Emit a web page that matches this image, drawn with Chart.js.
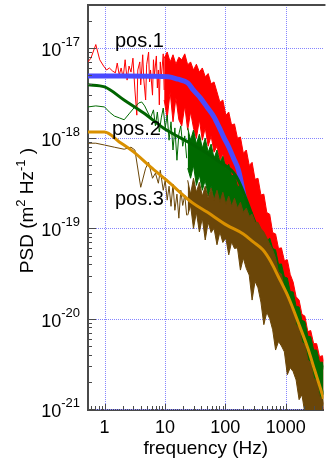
<!DOCTYPE html>
<html>
<head>
<meta charset="utf-8">
<script src="https://cdn.jsdelivr.net/npm/chart.js@4"></script>
<style>
  html, body { margin: 0; padding: 0; background: #fff; overflow: hidden; }
  canvas { display: block; }
</style>
</head>
<body>
<canvas id="psdChart" width="329" height="458"></canvas>
<script>
// axis ticks / labels
const xDecades = [1, 10, 100, 1000];
const yDecades = [1e-21, 1e-20, 1e-19, 1e-18, 1e-17];
const yExponents = ['-21', '-20', '-19', '-18', '-17'];
const seriesNames = ['pos.1', 'pos.2', 'pos.3'];

// pos.1 raw spectrum, low frequency part (Hz, m^2/Hz)
const redFreq = [0.53,0.593,0.715,0.83,0.963,1.08,1.2,1.35,1.51,1.62,1.75,1.88,2.03,2.19,2.36,2.54,2.74,2.95,3.18,3.42,3.55,3.83,3.97,4.28,4.44,4.79,4.97,5.36,5.56,5.77,6.22,6.45,6.7,7.21,7.49,7.78,8.07,8.37,8.69,9.37,9.7];
const redPsd = [7.0e-18,7.7e-18,1.09e-17,7.4e-18,6.3e-18,5.7e-18,6.0e-18,5.56e-18,5.3e-18,6.8e-18,5.0e-18,6.0e-18,4.65e-18,7.4e-18,4.4e-18,6.3e-18,5.4e-18,7.7e-18,3.42e-18,1.8e-18,5.7e-18,7.0e-18,3.9e-18,8.4e-18,4.65e-18,2.65e-18,6.5e-18,9.0e-18,4.2e-18,5.7e-18,3.0e-18,7.4e-18,5.0e-18,8.15e-18,3.6e-18,5.7e-18,2.34e-18,7.0e-18,4.65e-18,8.6e-18,3.42e-18];

// pos.2 raw spectrum, low frequency part
const greenFreq = [0.53,0.715,1,1.2,1.45,1.75,2.11,2.54,3.06,3.69,4.12,4.61,5.16,5.77,6.45,6.95,7.49,8.07,8.69,9.37,10.1,10.9,11.7,12.6,13.6,14.6,15.8,17.0,18.3,19.7,21.3,22.9];
const greenPsd = [2.22e-18,2.28e-18,2.22e-18,1.95e-18,1.76e-18,1.68e-18,1.6e-18,1.86e-18,2.16e-18,2.46e-18,2.52e-18,2.28e-18,1.95e-18,1.68e-18,2.06e-18,1.37e-18,1.95e-18,1.17e-18,1.68e-18,2.16e-18,1.3e-18,1.8e-18,9.5e-19,1.52e-18,7.4e-19,1.3e-18,5.7e-19,1.11e-18,1.37e-18,8.15e-19,1.06e-18,6.0e-19];

// pos.3 raw spectrum, low frequency part
const brownFreq = [0.53,0.715,1,1.45,2.11,2.74,3.18,3.97,4.79,5.36,6.22,6.95,7.78,8.37,9.37,10.1,10.9,11.7,12.6,13.6,14.6,15.8,17.0,18.3,19.7,21.3,22.9];
const brownPsd = [8.8e-19,8.8e-19,8.4e-19,7.95e-19,7.55e-19,7.95e-19,7.4e-19,2.86e-19,4.65e-19,5.4e-19,3.6e-19,4.1e-19,3.17e-19,4.42e-19,2.65e-19,3.42e-19,2.06e-19,2.94e-19,1.76e-19,3.09e-19,1.59e-19,2.4e-19,1.3e-19,2.65e-19,1.8e-19,2.34e-19,1.4e-19];

// dense high frequency part: upper / lower envelope of the noise
const bandFreq = [9.7,10.9,12.2,13.6,15.2,17.0,19.0,21.3,23.8,26.6,29.7,33.2,37.2,41.6,46.5,52,58.2,65.1,72.8,81.4,91,102,114,127,142,159,178,199,223,249,278,311,348,389,435,487,544,609,681,761,851,952,1065,1190,1330,1490,1670,1860,2080,2330,2600,2910,3260,3640,4070,4550];
const redHigh = [7.7e-18,9.0e-18,7.0e-18,8.4e-18,6.6e-18,7.9e-18,7.4e-18,8.6e-18,6.5e-18,7.0e-18,5.7e-18,6.6e-18,5.4e-18,6.0e-18,4.8e-18,5.2e-18,4.0e-18,4.2e-18,3.25e-18,2.5e-18,2.65e-18,1.8e-18,1.95e-18,1.4e-18,1.44e-18,1.0e-18,1.03e-18,6.8e-19,7.4e-19,5.0e-19,5.4e-19,3.5e-19,3.6e-19,2.35e-19,2.4e-19,1.5e-19,1.44e-19,9.0e-20,8.7e-20,6.0e-20,6.1e-20,4.4e-20,4.5e-20,3.1e-20,2.55e-20,1.75e-20,1.61e-20,1.12e-20,1.07e-20,7.2e-21,7.4e-21,5.3e-21,5.3e-21,3.8e-21,3.9e-21,2.8e-21];
const redLow = [2.65e-18,1.68e-18,3.25e-18,1.52e-18,2.8e-18,1.6e-18,1.37e-18,2.28e-18,1.23e-18,1.95e-18,1.3e-18,1.0e-18,1.6e-18,9.5e-19,1.3e-18,8.15e-19,1.06e-18,7.0e-19,8.15e-19,5.7e-19,6.65e-19,4.65e-19,3.9e-19,3.25e-19,2.65e-19,2.28e-19,1.95e-19,1.68e-19,1.44e-19,1.17e-19,1.0e-19,8.5e-20,7.1e-20,5.8e-20,5.0e-20,4.15e-20,3.46e-20,2.83e-20,2.3e-20,1.98e-20,1.61e-20,1.32e-20,1.13e-20,9.3e-21,7.55e-21,6.2e-21,5.0e-21,4.1e-21,3.3e-21,2.7e-21,2.2e-21,1.86e-21,1.55e-21,1.27e-21,1.09e-21,9e-22];
const greenHigh = [1.3e-18,9.5e-19,1.23e-18,8.6e-19,1.11e-18,7.75e-19,1.0e-18,7.0e-19,8.6e-19,6.0e-19,7.4e-19,5.4e-19,6.3e-19,4.65e-19,5.15e-19,3.8e-19,4.0e-19,2.94e-19,2.94e-19,2.28e-19,2.16e-19,1.5e-19,1.51e-19,1.1e-19,1.11e-19,8.5e-20,8.7e-20,7.0e-20,7.85e-20,6.0e-20,5.8e-20,4.0e-20,4.05e-20,2.9e-20,2.83e-20,2.0e-20,1.98e-20,1.37e-20,1.35e-20,9.6e-21,9.3e-21,6.4e-21,6.3e-21,4.5e-21,4.5e-21,3.3e-21,3.3e-21,2.45e-21];
const greenLow = [4.65e-19,3.6e-19,5.0e-19,3.0e-19,3.9e-19,2.65e-19,3.42e-19,2.28e-19,2.94e-19,2.06e-19,2.52e-19,1.76e-19,2.16e-19,1.51e-19,1.8e-19,1.3e-19,1.44e-19,1.0e-19,1.09e-19,7.85e-20,7.45e-20,5.8e-20,5.2e-20,4.25e-20,3.65e-20,2.97e-20,2.55e-20,2.08e-20,1.78e-20,1.42e-20,1.18e-20,9.75e-21,7.95e-21,6.5e-21,5.15e-21,4.1e-21,3.3e-21,2.6e-21,2.1e-21,1.64e-21,1.33e-21,1.03e-21,9e-22,9e-22,9e-22,9e-22,9e-22,9e-22];
const brownHigh = [3.42e-19,2.4e-19,3.6e-19,2.52e-19,3.25e-19,2.28e-19,2.94e-19,2.16e-19,2.8e-19,2.06e-19,2.65e-19,1.95e-19,2.52e-19,1.86e-19,2.28e-19,1.76e-19,2.16e-19,1.68e-19,1.95e-19,1.51e-19,1.68e-19,1.37e-19,1.44e-19,1.17e-19,1.17e-19,1.0e-19,9.15e-20,7.85e-20,6.7e-20,5.8e-20,4.7e-20,3.3e-20,3.13e-20,2.1e-20,1.98e-20,1.35e-20,1.25e-20,8.6e-21,7.95e-21,5.5e-21,5.15e-21,3.5e-21,3.25e-21,2.2e-21,2.06e-21,1.4e-21,1.27e-21,9.8e-22];
const brownLow = [1.4e-19,1.8e-19,1.0e-19,1.51e-19,9.15e-20,1.3e-19,7.45e-20,1.17e-19,9.0e-20,1.0e-19,6.6e-20,9.15e-20,7.0e-20,7.85e-20,5.1e-20,7.1e-20,6.0e-20,6.1e-20,3.46e-20,4.7e-20,3.6e-20,3.05e-20,1.61e-20,2.6e-20,2.2e-20,1.53e-20,8.6e-21,1.18e-20,1.0e-20,7.55e-21,4.5e-21,5.6e-21,5.0e-21,4.3e-21,2.4e-21,2.87e-21,2.6e-21,2.1e-21,1.27e-21,1.44e-21,9e-22,9e-22,9e-22,9e-22,9e-22,9e-22,9e-22,9e-22];

// fitted curves
const fit1Freq = [0.53,2,6,11.3,16.4,23.8,29.7,38.6,50,65,80,94,115,137,165,207,260,330];
const fit1Psd = [4.9e-18,4.9e-18,4.87e-18,4.8e-18,4.5e-18,4.1e-18,3.4e-18,2.8e-18,2.2e-18,1.72e-18,1.3e-18,1.03e-18,7.9e-19,6.0e-19,4.45e-19,2.2e-19,1.1e-19,5.0e-20];
const fit2Freq = [0.53,1,2.1,4.45,9.4,11.3,34.6,73,153,323,682,1430,4230];
const fit2Psd = [3.9e-18,3.7e-18,2.65e-18,1.9e-18,1.3e-18,1.2e-18,7.9e-19,5.7e-19,3.75e-19,1.09e-19,3.65e-20,1.0e-20,1.44e-21];
const fit3Freq = [0.53,1,1.75,3.06,5.77,10.5,28.7,50,105.6,199,290,419,566,762,1106,1605,2330,3020,3930,4230];
const fit3Psd = [1.17e-18,1.17e-18,9.1e-19,7.0e-19,4.8e-19,3.45e-19,1.92e-19,1.52e-19,1.09e-19,8.7e-20,7.1e-20,5.8e-20,4.3e-20,2.9e-20,1.74e-20,9.2e-21,4.7e-21,2.7e-21,1.54e-21,1.3e-21];

const FONT = '"Liberation Sans", Arial, sans-serif';
const axisColor = '#4a4a4a';
const gridColor = '#8585ff';
const red = '#ff0000', green = '#006a00', brown = '#6b4608';

function pts(fs, ps) {
  return fs.map((f, i) => ({x: f, y: ps[i]}));
}

function logTicks(scale) {
  const out = [];
  let d = Math.pow(10, Math.floor(Math.log10(scale.min)));
  while (d <= scale.max) {
    for (let m = 1; m <= 9; m++) {
      const v = m * d;
      if (v >= scale.min * 0.999 && v <= scale.max) out.push({value: v, major: m === 1});
    }
    d *= 10;
  }
  scale.ticks = out;
}

function noisy(data, color, fill) {
  return {data, borderColor: color, backgroundColor: color, borderWidth: 1, pointRadius: 0, tension: 0, fill: fill || false};
}
function fitLine(data, color, width) {
  return {data, borderColor: color, borderWidth: width, pointRadius: 0, cubicInterpolationMode: 'monotone', fill: false};
}

// dotted decade grid, under the data
const decadeGrid = {
  id: 'decadeGrid',
  beforeDatasetsDraw(chart) {
    const {ctx, chartArea: a, scales: {x, y}} = chart;
    ctx.save();
    ctx.strokeStyle = gridColor;
    ctx.lineWidth = 1;
    ctx.setLineDash([1, 1]);
    ctx.beginPath();
    xDecades.forEach(v => {
      const px = Math.round(x.getPixelForValue(v)) + 0.5;
      ctx.moveTo(px, a.top); ctx.lineTo(px, a.bottom);
    });
    yDecades.forEach(v => {
      const py = Math.round(y.getPixelForValue(v)) + 0.5;
      ctx.moveTo(a.left, py); ctx.lineTo(a.right, py);
    });
    ctx.stroke();
    ctx.restore();
  }
};

const decorations = {
  id: 'decorations',
  afterDraw(chart) {
    const {ctx, chartArea: a, scales: {x, y}} = chart;
    ctx.save();
    ctx.strokeStyle = axisColor;
    // top frame
    ctx.lineWidth = 2;
    ctx.beginPath(); ctx.moveTo(a.left, a.top); ctx.lineTo(a.right + 2, a.top); ctx.stroke();
    // inward tick marks
    ctx.lineWidth = 1;
    ctx.beginPath();
    y.ticks.forEach(t => {
      const py = Math.round(y.getPixelForValue(t.value)) + 0.5;
      ctx.moveTo(a.left, py); ctx.lineTo(a.left + (t.major ? 8 : 4), py);
    });
    x.ticks.forEach(t => {
      const px = Math.round(x.getPixelForValue(t.value)) + 0.5;
      ctx.moveTo(px, a.bottom); ctx.lineTo(px, a.bottom - (t.major ? 6 : 4));
    });
    ctx.stroke();

    // y tick labels 10^n
    ctx.fillStyle = '#000';
    ctx.textBaseline = 'alphabetic';
    ctx.textAlign = 'left';
    yDecades.forEach((v, i) => {
      const py = y.getPixelForValue(v);
      ctx.font = '13px ' + FONT;
      const ew = ctx.measureText(yExponents[i]).width;
      ctx.fillText(yExponents[i], 80 - ew, py - 2);
      ctx.font = '18px ' + FONT;
      const bw = ctx.measureText('10').width;
      ctx.fillText('10', 80 - ew - bw, py + 8);
    });

    // y title with superscripts
    const parts = [['PSD (m', 0], ['2', 1], [' Hz', 0], ['-1', 1], [' )', 0]];
    const big = '19px ' + FONT, small = '13px ' + FONT;
    let total = 0;
    parts.forEach(p => { ctx.font = p[1] ? small : big; total += ctx.measureText(p[0]).width; });
    ctx.translate(33, (a.top + a.bottom) / 2 + 3);
    ctx.rotate(-Math.PI / 2);
    let u = -total / 2;
    parts.forEach(p => {
      ctx.font = p[1] ? small : big;
      ctx.fillText(p[0], u, p[1] ? -8 : 0);
      u += ctx.measureText(p[0]).width;
    });
    ctx.setTransform(1, 0, 0, 1, 0, 0);

    // series names
    ctx.font = '20px ' + FONT;
    ctx.fillText(seriesNames[0], 115, 47);
    ctx.fillText(seriesNames[1], 112, 135);
    ctx.fillText(seriesNames[2], 115, 205);
    ctx.restore();
  }
};

new Chart(document.getElementById('psdChart'), {
  type: 'line',
  data: {
    datasets: [
      fitLine(pts(fit3Freq, fit3Psd), '#d99000', 3),
      noisy(pts(bandFreq.slice(8), brownHigh), brown, '+1'),
      noisy(pts(bandFreq.slice(8), brownLow), brown),
      noisy(pts(brownFreq, brownPsd), brown),
      fitLine(pts(fit2Freq, fit2Psd), '#006400', 3),
      noisy(pts(bandFreq.slice(8), greenHigh), green, '+1'),
      noisy(pts(bandFreq.slice(8), greenLow), green),
      noisy(pts(greenFreq, greenPsd), green),
      fitLine(pts(fit1Freq, fit1Psd), '#4a4aff', 5),
      noisy(pts(bandFreq, redHigh), red, '+1'),
      noisy(pts(bandFreq, redLow), red),
      noisy(pts(redFreq, redPsd), red)
    ]
  },
  options: {
    responsive: false,
    animation: false,
    devicePixelRatio: 1,
    layout: {padding: {top: 5, right: 0, bottom: 0, left: 0}},
    plugins: {legend: {display: false}, tooltip: {enabled: false}},
    scales: {
      x: {
        type: 'logarithmic',
        min: 0.531,
        max: 4230,
        bounds: 'data',
        afterBuildTicks: logTicks,
        afterFit: s => { s.height = 48; },
        grid: {display: false, drawTicks: false},
        border: {color: axisColor, width: 2},
        ticks: {
          autoSkip: false,
          maxRotation: 0,
          padding: 7,
          color: '#000',
          font: {family: FONT, size: 18},
          callback: (v, i, ticks) => (ticks[i].major && xDecades.includes(Math.round(v))) ? String(Math.round(v)) : ''
        },
        title: {display: true, text: 'frequency (Hz)', color: '#000', font: {family: FONT, size: 19, lineHeight: 1}, padding: {top: 0, bottom: 0}}
      },
      y: {
        type: 'logarithmic',
        min: 9.75e-22,
        max: 2.99e-17,
        bounds: 'data',
        afterBuildTicks: logTicks,
        afterFit: s => { s.width = 88; },
        grid: {display: false, drawTicks: false},
        border: {color: axisColor, width: 2},
        ticks: {display: false, autoSkip: false}
      }
    }
  },
  plugins: [decadeGrid, decorations]
});
</script>
</body>
</html>
